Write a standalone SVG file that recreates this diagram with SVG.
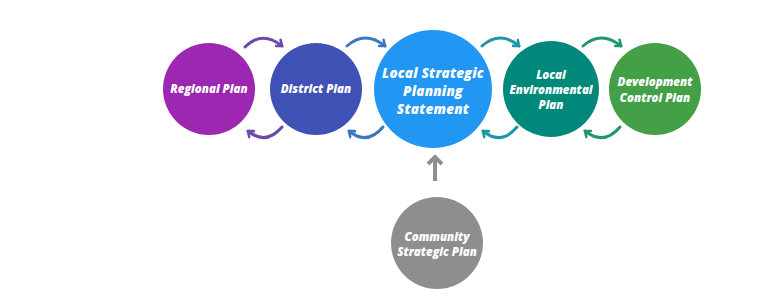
<svg xmlns="http://www.w3.org/2000/svg" width="768" height="307" viewBox="0 0 768 307">
<style>
.lbl{font-family:"Open Sans","Liberation Sans",sans-serif;font-weight:800;font-style:italic;fill:#fff;text-anchor:middle;font-size:11.5px}
.big{font-size:13.5px;letter-spacing:0.2px}
.arc{fill:none;stroke-width:3;stroke-linecap:round}
</style>
<defs>
<marker id="m1" viewBox="0 0 10 10" refX="6" refY="5" markerWidth="10" markerHeight="10" markerUnits="userSpaceOnUse" orient="auto"><path d="M1,1 L6,5 L1,9" fill="none" stroke="#6a4aab" stroke-width="2.6" stroke-linecap="round" stroke-linejoin="round"/></marker>
<marker id="m2" viewBox="0 0 10 10" refX="6" refY="5" markerWidth="10" markerHeight="10" markerUnits="userSpaceOnUse" orient="auto"><path d="M1,1 L6,5 L1,9" fill="none" stroke="#3a78c4" stroke-width="2.6" stroke-linecap="round" stroke-linejoin="round"/></marker>
<marker id="m3" viewBox="0 0 10 10" refX="6" refY="5" markerWidth="10" markerHeight="10" markerUnits="userSpaceOnUse" orient="auto"><path d="M1,1 L6,5 L1,9" fill="none" stroke="#1e96a8" stroke-width="2.6" stroke-linecap="round" stroke-linejoin="round"/></marker>
<marker id="m4" viewBox="0 0 10 10" refX="6" refY="5" markerWidth="10" markerHeight="10" markerUnits="userSpaceOnUse" orient="auto"><path d="M1,1 L6,5 L1,9" fill="none" stroke="#249572" stroke-width="2.6" stroke-linecap="round" stroke-linejoin="round"/></marker>
</defs>
<rect width="768" height="307" fill="#fff"/>
<g id="connectors">
<path class="arc" stroke="#6a4aab" marker-end="url(#m1)" d="M245,47 Q262,30 282,46"/>
<path class="arc" stroke="#6a4aab" marker-end="url(#m1)" d="M282,127 Q266,146 248,131"/>
<path class="arc" stroke="#3a78c4" marker-end="url(#m2)" d="M347,46 Q365,30 385,46"/>
<path class="arc" stroke="#3a78c4" marker-end="url(#m2)" d="M383,127 Q367,146 349,131"/>
<path class="arc" stroke="#1e96a8" marker-end="url(#m3)" d="M482,46 Q500,30 519,46"/>
<path class="arc" stroke="#1e96a8" marker-end="url(#m3)" d="M517,127 Q501,146 483,131"/>
<path class="arc" stroke="#249572" marker-end="url(#m4)" d="M583,46 Q601,30 621,46"/>
<path class="arc" stroke="#249572" marker-end="url(#m4)" d="M620,127 Q604,146 585,131"/>
<line x1="435" y1="181" x2="435" y2="158" stroke="#8f8f8f" stroke-width="4"/>
<polyline points="428,164 435,157 442,164" fill="none" stroke="#8f8f8f" stroke-width="4" stroke-linejoin="miter"/>
</g>
<g id="regional"><circle cx="209" cy="89" r="46" fill="#9c27b0"/><text class="lbl" x="209" y="93">Regional Plan</text></g>
<g id="district"><circle cx="316" cy="89" r="46" fill="#3f51b5"/><text class="lbl" x="316" y="93">District Plan</text></g>
<g id="lsps"><circle cx="433" cy="89" r="59" fill="#2196f3"/><text class="lbl big"><tspan x="433" y="78">Local Strategic</tspan><tspan x="433" y="96">Planning</tspan><tspan x="433" y="114">Statement</tspan></text></g>
<g id="lep"><circle cx="551" cy="89" r="48" fill="#00897b"/><text class="lbl"><tspan x="551" y="79">Local</tspan><tspan x="551" y="94">Environmental</tspan><tspan x="551" y="109">Plan</tspan></text></g>
<g id="dcp"><circle cx="655" cy="89" r="46" fill="#43a047"/><text class="lbl"><tspan x="655" y="86">Development</tspan><tspan x="655" y="102">Control Plan</tspan></text></g>
<g id="csp"><circle cx="437" cy="243" r="46" fill="#8e8e8e"/><text class="lbl"><tspan x="437" y="241">Community</tspan><tspan x="437" y="256">Strategic Plan</tspan></text></g>
</svg>
